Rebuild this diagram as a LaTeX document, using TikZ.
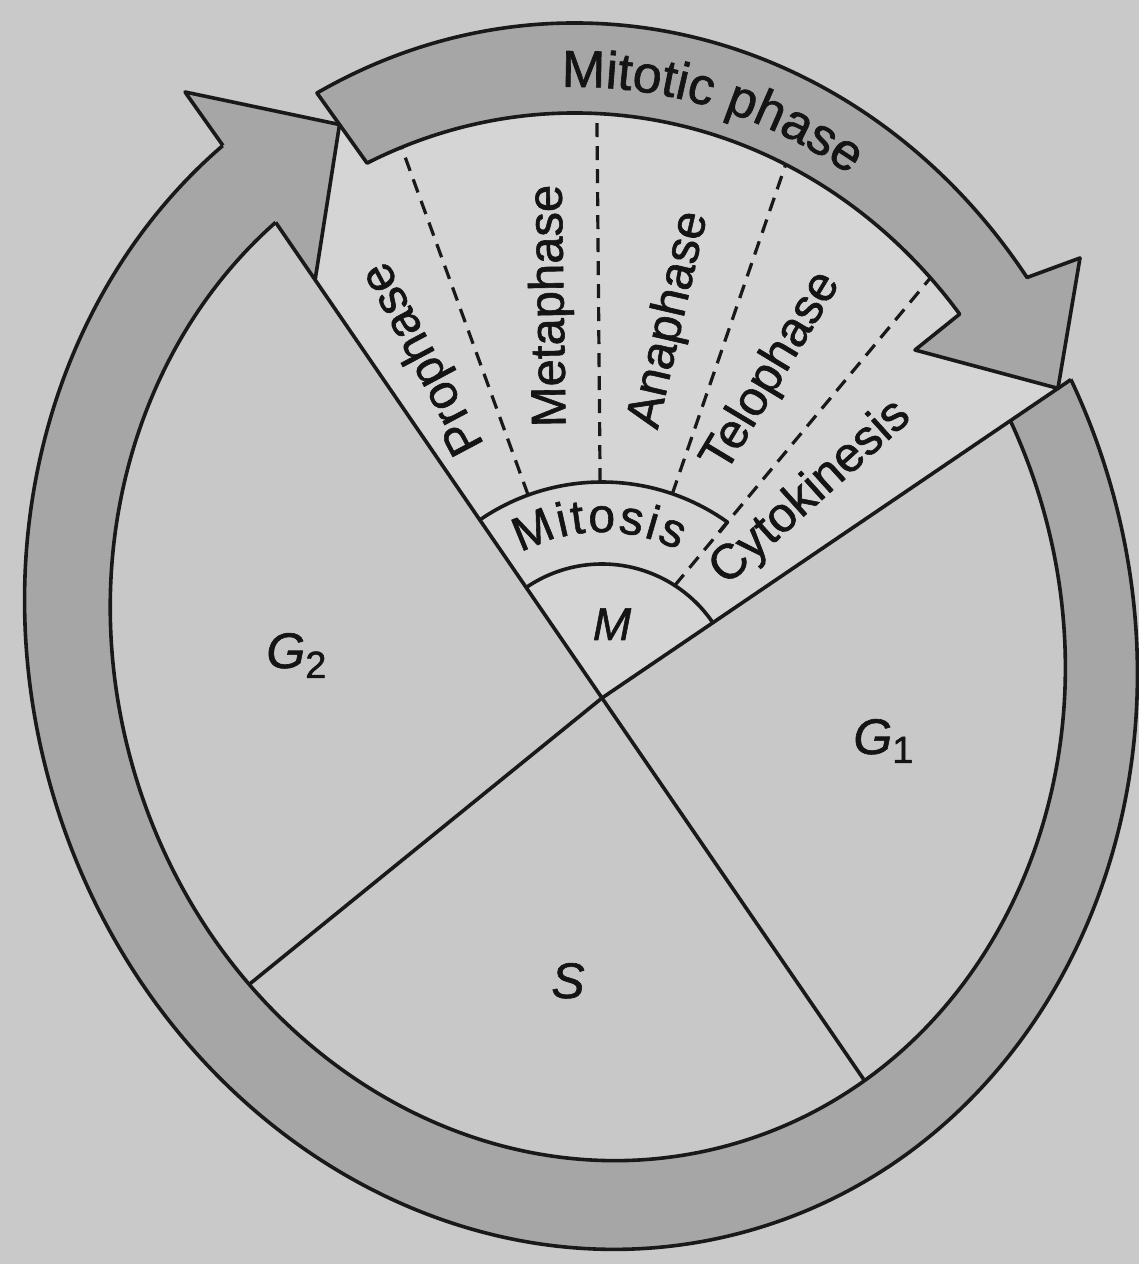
\documentclass[tikz,border=0pt]{standalone}
\usepackage{fontspec}
\setmainfont{Liberation Sans}
\newfontfamily\hv{Liberation Sans}[FakeBold=1.2]
\usetikzlibrary{calc,intersections,decorations.text}
\definecolor{bgc}{gray}{0.79}
\definecolor{piec}{gray}{0.785}
\definecolor{fanc}{gray}{0.835}
\definecolor{ringc}{gray}{0.65}
\definecolor{linec}{gray}{0.1}
\definecolor{txtc}{gray}{0.08}
\newcommand\labfont{\hv\fontsize{24.5}{29}\selectfont}
\newcommand\mitfont{\hv\fontsize{24}{29}\selectfont}
\newcommand\bigfont{\hv\fontsize{25}{30}\selectfont}
\newcommand\subfont{\fontsize{19}{19}\selectfont}
\begin{document}
\begin{tikzpicture}[x=0.5pt,y=0.5pt,line join=round,
  ln/.style={draw=linec,line width=1.8pt},
  dsh/.style={draw=linec,line width=1.6pt,dash pattern=on 7pt off 4.5pt},
  lab/.style={text=txtc,inner sep=0pt,font=\labfont},
  inrot/.style={rotate around={16.07:(587.8,626.6)}},
  outrot/.style={rotate around={16:(581,627)}}]
\useasboundingbox (0,0) rectangle (1139,1264);
\fill[bgc] (0,0) rectangle (1139,1264);
% key points
\coordinate (O) at (602,566);
\coordinate (gmdir) at (285,1028);
\coordinate (mgdir) at (1085,894);
\coordinate (sgdir) at (262,290);
\path[name path=inE,inrot] (587.8,626.6) ellipse [x radius=473.1,y radius=527.1];
\path[name path=outE,outrot] (581,627) ellipse [x radius=551,y radius=617];
\path[name path=lgm] (O) -- ($(O)!2!(gmdir)$);
\path[name path=lmg] (O) -- ($(O)!2!(mgdir)$);
\path[name path=lsa] (O) -- ($(O)!-2!(gmdir)$);
\path[name path=lsb] (O) -- ($(O)!2!(sgdir)$);
\path[name intersections={of=inE and lgm,by={pk}}];
\path[name intersections={of=outE and lgm,by={oL}}];
\path[name intersections={of=inE and lmg,by={Ri}}];
\path[name intersections={of=outE and lmg,by={Ro}}];
\path[name intersections={of=inE and lsa,by={s1}}];
\path[name intersections={of=inE and lsb,by={s2}}];
\coordinate (bL) at ($(O)!0.905!(gmdir)$);
\coordinate (wL) at (185,1172);
\coordinate (tt) at ({575+562*cos(117.33)},{614+627*sin(117.33)});
\coordinate (tb) at ({575+493*cos(114.95)},{614+537*sin(114.95)});
\coordinate (tipL) at ($(tt)!0.45!(tb)$);
\coordinate (tipR) at ($(O)!0.944!(mgdir)$);
\coordinate (wR) at (1080,1006);
\coordinate (iR) at (915,914);
\coordinate (nR) at ({575+493*cos(38.72)},{614+537*sin(38.72)});
% ring (outside the M wedge) and pie
\begin{scope}
  \clip (O) -- ($(O)!3!(gmdir)$) -- (-500,-500) -- (2200,-500) -- ($(O)!3!(mgdir)$) -- cycle;
  \fill[ringc,outrot] (581,627) ellipse [x radius=551,y radius=617];
\end{scope}
\fill[piec,inrot] (587.8,626.6) ellipse [x radius=473.1,y radius=527.1];
\begin{scope}
  \clip (O) -- ($(O)!3!(gmdir)$) -- (-500,-500) -- (2200,-500) -- ($(O)!3!(mgdir)$) -- cycle;
  \draw[ln,outrot] (581,627) ellipse [x radius=551,y radius=617];
  \draw[ln,inrot] (587.8,626.6) ellipse [x radius=473.1,y radius=527.1];
\end{scope}
% mitosis fan
\fill[fanc] (O) -- (bL) -- (tipL) -- (tb)
  arc[start angle=114.95,end angle=38.72,x radius=493,y radius=537]
  -- (iR) -- (tipR) -- cycle;
% dashed dividers
\begin{scope}
  \clip (575,614) ellipse [x radius=493,y radius=537];
  \draw[dsh] ($(O)+(110:216)$) -- ($(O)+(110:760)$);
  \draw[dsh] ($(O)+(90.5:216)$) -- ($(O)+(90.5:760)$);
  \draw[dsh] ($(O)+(71:216)$) -- ($(O)+(71:760)$);
  \draw[dsh] ($(O)+(57.1:134)$) -- +(300,361);
\end{scope}
% mitotic phase band arrow
\filldraw[fill=ringc,ln] (tt)
  arc[start angle=117.33,end angle=36.45,x radius=562,y radius=627]
  -- (wR) -- (tipR) -- (iR) -- (nR)
  arc[start angle=38.72,end angle=114.95,x radius=493,y radius=537] -- cycle;
% ring arrowhead
\filldraw[fill=ringc,ln] (oL) -- (wL) -- (tipL) -- (bL);
% dividing lines
\draw[ln] (O) -- (pk);
\draw[ln] (O) -- (Ro);
\draw[ln] (O) -- (s1);
\draw[ln] (O) -- (s2);
% M and mitosis arcs
\draw[ln] ($(O)+(124.46:134)$) arc[start angle=124.46,end angle=34.18,radius=134];
\draw[ln] ($(O)+(124.46:216)$) arc[start angle=124.46,end angle=54.5,radius=216] -- +(-8,-10);
% texts
\path[decorate,decoration={text along path,text align=left,
  text={|\hv\fontsize{26}{26}\selectfont\color{txtc}|Mitotic phase}}]
  ({575+512*cos(91.5)},{614+563*sin(91.5)})
  arc[start angle=91.5,end angle=10,x radius=512,y radius=563];
\foreach \ch/\ang [count=\k] in {M/112.34,i/102.79,t/97.81,o/90.09,s/80.53,i/73.73,s/66.93}
  \node[lab,font=\mitfont,rotate=\ang-90,anchor=base] (mit\k) at ($(O)+(\ang:166)$) {\ch};
\node[lab,rotate=118] (pro) at (424,906) {Prophase};
\node[lab,rotate=91] (met) at (551,958) {Metaphase};
\node[lab,rotate=77] (ana) at (670,944) {Anaphase};
\node[lab,rotate=59] (tel) at (772,892) {Telophase};
\node[lab,rotate=42] (cyt) at (811,771) {Cytokinesis};
\node[lab,font=\hv\fontsize{23}{28}\selectfont\itshape,anchor=base] (m) at (612,624) {M};
\node[lab,font=\bigfont,anchor=base west] (g2) at (266,596) {\itshape G\/\upshape\raisebox{-5pt}{\subfont 2}};
\node[lab,font=\bigfont,anchor=base west] (g1) at (853,510) {\itshape G\/\upshape\raisebox{-4.5pt}{\subfont 1}};
\node[lab,font=\bigfont\itshape,anchor=base] (s) at (568,266) {S};
\end{tikzpicture}
\end{document}
